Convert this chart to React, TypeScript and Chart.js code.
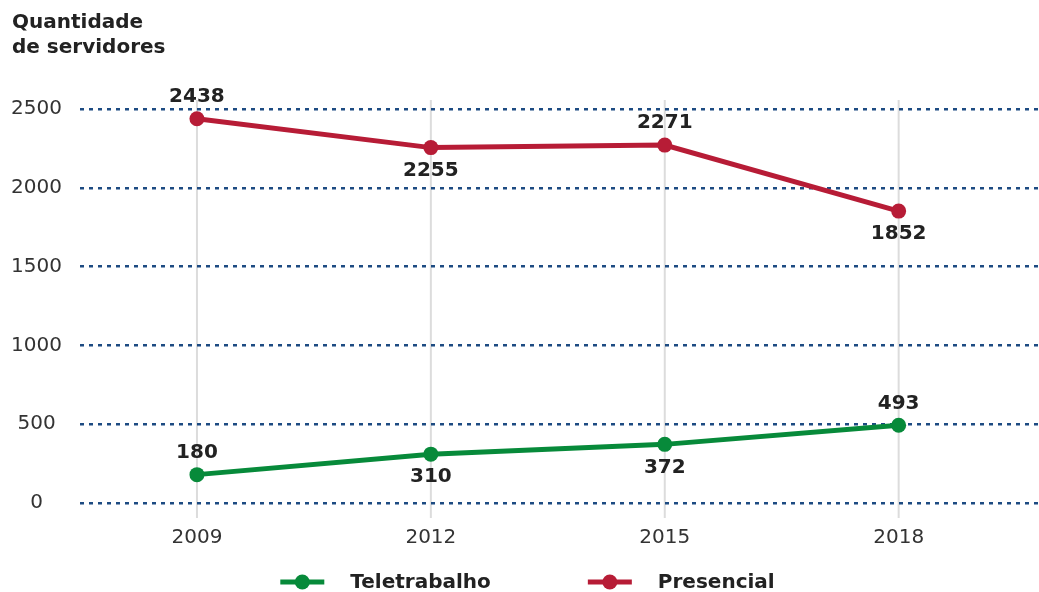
import React, { useEffect, useRef } from 'react';
import { Chart, registerables } from 'chart.js';

Chart.register(...registerables);

const years = [2009, 2012, 2015, 2018];
const teletrabalho = [180, 310, 372, 493];
const presencial = [2438, 2255, 2271, 1852];
const yTickValues = [0, 500, 1000, 1500, 2000, 2500];
const titleLines = ['Quantidade', 'de servidores'];
const seriesNames = ['Teletrabalho', 'Presencial'];
const teleLabelSide = ['above', 'below', 'below', 'above'];
const presLabelSide = ['above', 'below', 'above', 'below'];

const GREEN = '#078a3a';
const RED = '#b71c36';
const FONT = "'DejaVu Sans', sans-serif";

const verticalLines = {
  id: 'verticalLines',
  beforeDraw(chart: any) {
    const { ctx, chartArea, scales } = chart;
    ctx.save();
    ctx.strokeStyle = '#dcdcdc';
    ctx.lineWidth = 2;
    years.forEach((yr) => {
      const x = scales.x.getPixelForValue(yr);
      ctx.beginPath();
      ctx.moveTo(x, chartArea.top - 9);
      ctx.lineTo(x, chartArea.bottom + 15);
      ctx.stroke();
    });
    ctx.restore();
  },
};

const valueLabels = {
  id: 'valueLabels',
  afterDatasetsDraw(chart: any) {
    const ctx = chart.ctx;
    ctx.save();
    ctx.font = `bold 20px ${FONT}`;
    ctx.fillStyle = '#222222';
    ctx.textAlign = 'center';
    ctx.textBaseline = 'middle';
    chart.data.datasets.forEach((ds: any, di: number) => {
      const meta = chart.getDatasetMeta(di);
      meta.data.forEach((pt: any, i: number) => {
        const v = ds.data[i].y;
        const dy = ds.labelSides[i] === 'above' ? -22 : 23;
        ctx.fillText(String(v), pt.x, pt.y + dy);
      });
    });
    ctx.restore();
  },
};

const customLegend = {
  id: 'customLegend',
  afterDraw(chart: any) {
    const ctx = chart.ctx;
    ctx.save();
    ctx.font = `bold 20px ${FONT}`;
    ctx.textBaseline = 'middle';
    ctx.textAlign = 'left';
    const markerW = 44;
    const gapText = 26;
    const gapItem = 97;
    const items = chart.data.datasets.map((ds: any) => ({
      text: ds.label,
      color: ds.borderColor,
      w: markerW + gapText + ctx.measureText(ds.label).width,
    }));
    const total = items.reduce((s: number, it: any) => s + it.w, 0) + gapItem * (items.length - 1);
    let x = (chart.width - total) / 2 + 8;
    const y = chart.height - 10;
    items.forEach((it: any) => {
      ctx.strokeStyle = it.color;
      ctx.fillStyle = it.color;
      ctx.lineWidth = 5;
      ctx.beginPath();
      ctx.moveTo(x, y);
      ctx.lineTo(x + markerW, y);
      ctx.stroke();
      ctx.beginPath();
      ctx.arc(x + markerW / 2, y, 7.5, 0, Math.PI * 2);
      ctx.fill();
      ctx.fillStyle = '#222222';
      ctx.fillText(it.text, x + markerW + gapText, y + 1);
      x += it.w + gapItem;
    });
    ctx.restore();
  },
};

export default function App() {
  const ref = useRef<HTMLCanvasElement>(null);

  useEffect(() => {
    document.body.style.margin = '0';
    const canvas = ref.current!;
    const chart = new Chart(canvas, {
      type: 'line',
      data: {
        datasets: [
          {
            label: seriesNames[0],
            data: years.map((yr, i) => ({ x: yr, y: teletrabalho[i] })),
            borderColor: GREEN,
            backgroundColor: GREEN,
            borderWidth: 5,
            pointRadius: 7.5,
            pointBorderWidth: 0,
            pointBackgroundColor: GREEN,
            clip: false,
            labelSides: teleLabelSide,
          } as any,
          {
            label: seriesNames[1],
            data: years.map((yr, i) => ({ x: yr, y: presencial[i] })),
            borderColor: RED,
            backgroundColor: RED,
            borderWidth: 5,
            pointRadius: 7.5,
            pointBorderWidth: 0,
            pointBackgroundColor: RED,
            clip: false,
            labelSides: presLabelSide,
          } as any,
        ],
      },
      options: {
        animation: false,
        responsive: true,
        maintainAspectRatio: false,
        layout: { autoPadding: false, padding: { left: 12, right: 0, top: 8, bottom: 44 } },
        scales: {
          x: {
            type: 'linear',
            min: 2007.5,
            max: 2019.8,
            afterBuildTicks: (scale: any) => {
              scale.ticks = years.map((v) => ({ value: v }));
            },
            afterFit: (scale: any) => {
              scale.height = 45;
            },
            grid: { display: false, drawTicks: false },
            border: { display: false },
            ticks: {
              padding: 23,
              color: '#333333',
              font: { family: FONT, size: 20 },
              autoSkip: false,
              maxRotation: 0,
              callback: (v: any) => String(v),
            },
          },
          y: {
            type: 'linear',
            min: 0,
            max: 2500,
            afterBuildTicks: (scale: any) => {
              scale.ticks = yTickValues.map((v) => ({ value: v }));
            },
            afterFit: (scale: any) => {
              scale.width = 68;
            },
            grid: { color: '#1d4b82', lineWidth: 2.5, drawTicks: false },
            border: { display: false, dash: [4, 5] },
            ticks: {
              padding: 18,
              crossAlign: 'center',
              color: '#333333',
              font: { family: FONT, size: 20 },
              callback: (v: any) => String(v),
            },
          },
        },
        plugins: {
          legend: { display: false },
          tooltip: { enabled: false },
          title: {
            display: true,
            text: titleLines,
            align: 'start',
            color: '#222222',
            font: { family: FONT, size: 20, weight: 'bold', lineHeight: 1.25 },
            padding: { top: 2, bottom: 49 },
          },
        },
      },
      plugins: [verticalLines, valueLabels, customLegend],
    });
    return () => chart.destroy();
  }, []);

  return (
    <div style={{ width: 1039, height: 592, position: 'relative' }}>
      <canvas ref={ref} />
    </div>
  );
}
